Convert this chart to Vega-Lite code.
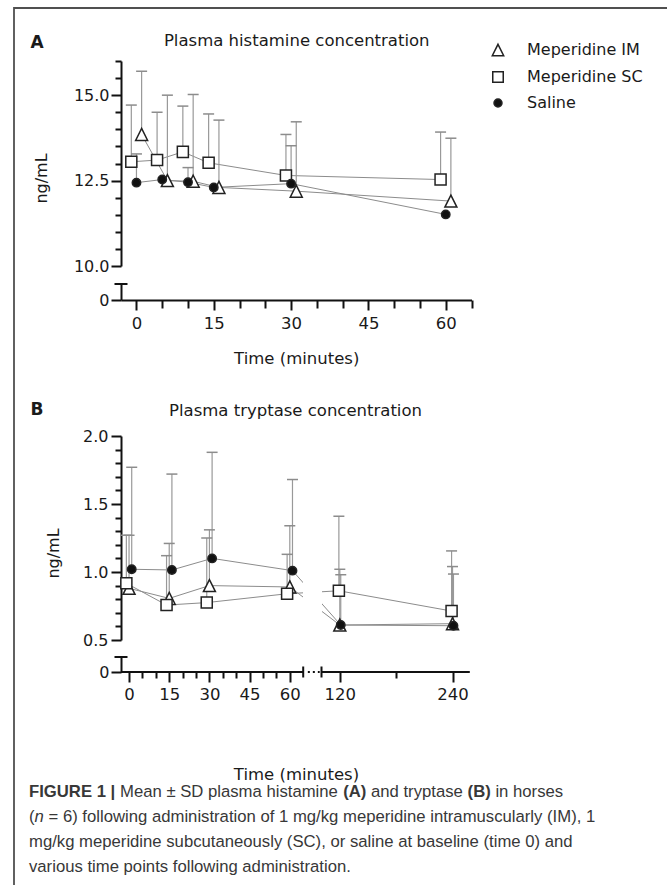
{
  "$schema": "https://vega.github.io/schema/vega-lite/v6.json",
  "description": "Figure 1: mean and SD of plasma histamine (A) and tryptase (B) in horses after meperidine IM, meperidine SC or saline.",
  "width": 663,
  "height": 887,
  "autosize": {"type": "none"},
  "padding": {"left": 14, "top": 8, "right": -10, "bottom": -10},
  "background": "#ffffff",
  "config": {
    "view": {"stroke": "#505050", "strokeWidth": 1.8},
    "axis": {
      "grid": false,
      "labelFont": "DejaVu Sans",
      "labelFontSize": 16,
      "labelColor": "#1a1a1a",
      "labelFlush": false,
      "labelOverlap": false,
      "titleFont": "DejaVu Sans",
      "titleFontSize": 16.5,
      "titleFontWeight": "normal",
      "titleColor": "#1a1a1a",
      "domainColor": "#111111",
      "domainWidth": 2,
      "tickColor": "#111111",
      "tickWidth": 2
    },
    "text": {"font": "Liberation Sans", "fontSize": 16.7, "color": "#383838", "align": "left", "baseline": "alphabetic"}
  },
  "datasets": {
    "mean_sd": [
      {"panel": "A", "group": "Meperidine IM", "time": 1, "mean": 13.85, "upper": 15.7},
      {"panel": "A", "group": "Meperidine IM", "time": 6, "mean": 12.5, "upper": 15.0},
      {"panel": "A", "group": "Meperidine IM", "time": 11, "mean": 12.48, "upper": 15.02},
      {"panel": "A", "group": "Meperidine IM", "time": 16, "mean": 12.3, "upper": 14.27},
      {"panel": "A", "group": "Meperidine IM", "time": 31, "mean": 12.19, "upper": 14.22},
      {"panel": "A", "group": "Meperidine IM", "time": 61, "mean": 11.9, "upper": 13.74},
      {"panel": "A", "group": "Meperidine SC", "time": -1, "mean": 13.05, "upper": 14.71},
      {"panel": "A", "group": "Meperidine SC", "time": 4, "mean": 13.1, "upper": 14.5},
      {"panel": "A", "group": "Meperidine SC", "time": 9, "mean": 13.34, "upper": 14.68},
      {"panel": "A", "group": "Meperidine SC", "time": 14, "mean": 13.02, "upper": 14.45},
      {"panel": "A", "group": "Meperidine SC", "time": 29, "mean": 12.65, "upper": 13.85},
      {"panel": "A", "group": "Meperidine SC", "time": 59, "mean": 12.53, "upper": 13.92},
      {"panel": "A", "group": "Saline", "time": 0, "mean": 12.44, "upper": 13.28},
      {"panel": "A", "group": "Saline", "time": 5, "mean": 12.53, "upper": null},
      {"panel": "A", "group": "Saline", "time": 10, "mean": 12.45, "upper": 12.88},
      {"panel": "A", "group": "Saline", "time": 15, "mean": 12.3, "upper": null},
      {"panel": "A", "group": "Saline", "time": 30, "mean": 12.41, "upper": 13.52},
      {"panel": "A", "group": "Saline", "time": 60, "mean": 11.51, "upper": null},
      {"panel": "B", "group": "Meperidine IM", "time": 0, "mean": 0.88, "upper": 1.27},
      {"panel": "B", "group": "Meperidine IM", "time": 15, "mean": 0.806, "upper": 1.21},
      {"panel": "B", "group": "Meperidine IM", "time": 30, "mean": 0.9, "upper": 1.31},
      {"panel": "B", "group": "Meperidine IM", "time": 60, "mean": 0.89, "upper": 1.34},
      {"panel": "B", "group": "Meperidine IM", "time": 120, "mean": 0.61, "upper": 1.02},
      {"panel": "B", "group": "Meperidine IM", "time": 240, "mean": 0.62, "upper": 1.04},
      {"panel": "B", "group": "Meperidine SC", "time": -1, "mean": 0.917, "upper": 1.27},
      {"panel": "B", "group": "Meperidine SC", "time": 14, "mean": 0.757, "upper": 1.12},
      {"panel": "B", "group": "Meperidine SC", "time": 29, "mean": 0.775, "upper": 1.25},
      {"panel": "B", "group": "Meperidine SC", "time": 59, "mean": 0.84, "upper": 1.13},
      {"panel": "B", "group": "Meperidine SC", "time": 119, "mean": 0.862, "upper": 1.41},
      {"panel": "B", "group": "Meperidine SC", "time": 239, "mean": 0.713, "upper": 1.155},
      {"panel": "B", "group": "Saline", "time": 1, "mean": 1.02, "upper": 1.77},
      {"panel": "B", "group": "Saline", "time": 16, "mean": 1.015, "upper": 1.72},
      {"panel": "B", "group": "Saline", "time": 31, "mean": 1.1, "upper": 1.88},
      {"panel": "B", "group": "Saline", "time": 61, "mean": 1.01, "upper": 1.68},
      {"panel": "B", "group": "Saline", "time": 121, "mean": 0.61, "upper": 0.98},
      {"panel": "B", "group": "Saline", "time": 241, "mean": 0.605, "upper": 0.985}
    ],
    "caption": [
      {"line": 1, "part": "lead", "text": "FIGURE 1 |"},
      {"line": 1, "part": "histamine", "text": "Mean ± SD plasma histamine"},
      {"line": 1, "part": "labelA", "text": "(A)"},
      {"line": 1, "part": "tryptase", "text": "and tryptase"},
      {"line": 1, "part": "labelB", "text": "(B)"},
      {"line": 1, "part": "horses", "text": "in horses"},
      {"line": 2, "part": "paren", "text": "("},
      {"line": 2, "part": "n", "text": "n"},
      {"line": 2, "part": "sample", "text": "= 6) following administration of 1 mg/kg meperidine intramuscularly (IM), 1"},
      {"line": 3, "part": "plain", "text": "mg/kg meperidine subcutaneously (SC), or saline at baseline (time 0) and"},
      {"line": 4, "part": "plain", "text": "various time points following administration."}
    ]
  },
  "layer": [
    {
      "data": {"name": "mean_sd"},
      "transform": [{"filter": "datum.panel === 'A'"}],
      "encoding": {
        "x": {
          "field": "time",
          "type": "quantitative",
          "scale": {"domain": [-3, 65], "range": [107, 457.5], "nice": false, "zero": false},
          "axis": {"orient": "top", "offset": 0, "domain": false, "ticks": false, "labels": false, "title": "Plasma histamine concentration", "titleY": 37, "titleBaseline": "alphabetic"}
        },
        "y": {
          "field": "mean",
          "type": "quantitative",
          "scale": {"domain": [10, 16], "range": [258, 53], "nice": false, "zero": false},
          "axis": {
            "orient": "left",
            "offset": -107,
            "values": [10, 10.5, 11, 11.5, 12, 12.5, 13, 13.5, 14, 14.5, 15, 15.5, 16],
            "tickSize": {"condition": {"test": "(datum.value % 2.5 === 0)", "value": 10}, "value": 6},
            "labelExpr": "datum.value % 2.5 === 0 ? format(datum.value, '.1f') : ''",
            "labelPadding": 2,
            "title": "ng/mL",
            "titleX": -74.5,
            "titleY": 170,
            "titleAngle": 270,
            "titleAlign": "center",
            "titleBaseline": "alphabetic",
            "titleFontSize": 16
          }
        }
      },
      "layer": [
        {
          "mark": {"type": "line", "stroke": "#8c8c8c", "strokeWidth": 1},
          "encoding": {"detail": {"field": "group", "type": "nominal"}, "order": {"field": "time", "type": "quantitative"}}
        },
        {
          "transform": [{"filter": "isValid(datum.upper)"}],
          "mark": {"type": "rule", "stroke": "#999999", "strokeWidth": 1.2},
          "encoding": {"y2": {"field": "upper"}}
        },
        {
          "transform": [{"filter": "isValid(datum.upper)"}],
          "mark": {"type": "tick", "orient": "horizontal", "size": 11, "thickness": 1.5, "color": "#8c8c8c", "opacity": 1},
          "encoding": {"y": {"field": "upper", "type": "quantitative"}}
        },
        {
          "mark": {"type": "point", "filled": true, "size": 144, "opacity": 1, "strokeWidth": 1.5},
          "encoding": {
            "shape": {
              "field": "group",
              "type": "nominal",
              "scale": {
                "domain": ["Meperidine IM", "Meperidine SC", "Saline"],
                "range": ["M0,-1L1,1H-1Z", "M-0.92,-0.92H0.92V0.92H-0.92Z", "M0.7,0A0.7,0.7 0 1 1 -0.7,0A0.7,0.7 0 1 1 0.7,0Z"]
              },
              "legend": {
                "orient": "none",
                "legendX": 476,
                "legendY": 34,
                "title": null,
                "padding": 0,
                "labelFont": "DejaVu Sans",
                "labelFontSize": 16,
                "labelColor": "#1a1a1a",
                "labelOffset": 21,
                "rowPadding": 9,
                "symbolSize": 130,
                "symbolStrokeWidth": 1.5
              }
            },
            "fill": {
              "field": "group",
              "type": "nominal",
              "scale": {"domain": ["Meperidine IM", "Meperidine SC", "Saline"], "range": ["#ffffff", "#ffffff", "#111111"]},
              "legend": {
                "orient": "none",
                "legendX": 476,
                "legendY": 34,
                "title": null,
                "padding": 0,
                "labelFont": "DejaVu Sans",
                "labelFontSize": 16,
                "labelColor": "#1a1a1a",
                "labelOffset": 21,
                "rowPadding": 9,
                "symbolSize": 130
              }
            },
            "stroke": {
              "field": "group",
              "type": "nominal",
              "scale": {"domain": ["Meperidine IM", "Meperidine SC", "Saline"], "range": ["#222222", "#222222", "#222222"]},
              "legend": {
                "orient": "none",
                "legendX": 476,
                "legendY": 34,
                "title": null,
                "padding": 0,
                "labelFont": "DejaVu Sans",
                "labelFontSize": 16,
                "labelColor": "#1a1a1a",
                "labelOffset": 21,
                "rowPadding": 9,
                "symbolSize": 130
              }
            }
          }
        }
      ]
    },
    {
      "data": {"values": [{}]},
      "mark": {"type": "tick", "orient": "horizontal", "size": 13, "thickness": 2, "color": "#111111", "opacity": 1},
      "encoding": {
        "x": {
          "datum": -3,
          "type": "quantitative",
          "scale": {"domain": [-3, 65], "range": [107, 457.5], "nice": false, "zero": false},
          "axis": {
            "orient": "bottom",
            "offset": -595,
            "values": [0, 5, 10, 15, 20, 25, 30, 35, 40, 45, 50, 55, 60, 65],
            "tickSize": {"condition": {"test": "(datum.value % 15 === 0)", "value": 10}, "value": 8},
            "labelExpr": "datum.value % 15 === 0 ? datum.label : ''",
            "labelBaseline": "alphabetic",
            "labelPadding": 18,
            "labelFontSize": 16.5,
            "title": "Time (minutes)",
            "titleY": 63,
            "titleBaseline": "alphabetic"
          }
        },
        "y": {
          "datum": 1,
          "type": "quantitative",
          "scale": {"domain": [0, 1], "range": [292, 276], "nice": false, "zero": false},
          "axis": {
            "orient": "left",
            "offset": -107,
            "values": [0],
            "format": "d",
            "tickSize": 10,
            "labelPadding": 2,
            "title": "A",
            "titleX": -84.5,
            "titleY": 39,
            "titleAngle": 0,
            "titleAlign": "center",
            "titleBaseline": "alphabetic",
            "titleFontWeight": "bold",
            "titleFontSize": 17
          }
        }
      }
    },
    {
      "data": {"name": "mean_sd"},
      "transform": [{"filter": "datum.panel === 'B'"}],
      "encoding": {
        "x": {
          "field": "time",
          "type": "quantitative",
          "scale": {"domain": [-3, 65, 100.5, 258.4], "range": [107, 289.2, 307.5, 455.8], "nice": false, "zero": false},
          "axis": {"orient": "top", "offset": 0, "domain": false, "ticks": false, "labels": false, "title": "Plasma tryptase concentration", "titleX": 281, "titleY": 407, "titleBaseline": "alphabetic"}
        },
        "y": {
          "field": "mean",
          "type": "quantitative",
          "scale": {"domain": [0.5, 2], "range": [632, 428], "nice": false, "zero": false},
          "axis": {
            "orient": "left",
            "offset": -107,
            "values": [0.5, 0.6, 0.7, 0.8, 0.9, 1.0, 1.1, 1.2, 1.3, 1.4, 1.5, 1.6, 1.7, 1.8, 1.9, 2.0],
            "tickSize": {"condition": {"test": "(abs(datum.value * 2 - round(datum.value * 2)) < 0.001)", "value": 10}, "value": 6},
            "labelExpr": "abs(datum.value * 2 - round(datum.value * 2)) < 0.001 ? format(datum.value, '.1f') : ''",
            "labelPadding": 3,
            "title": "ng/mL",
            "titleX": -62.5,
            "titleY": 545,
            "titleAngle": 270,
            "titleAlign": "center",
            "titleBaseline": "alphabetic",
            "titleFontSize": 16
          }
        }
      },
      "layer": [
        {
          "mark": {"type": "line", "stroke": "#8c8c8c", "strokeWidth": 1},
          "encoding": {"detail": {"field": "group", "type": "nominal"}, "order": {"field": "time", "type": "quantitative"}}
        },
        {
          "mark": {"type": "rect", "fill": "#ffffff"},
          "encoding": {
            "x": {"datum": 65, "type": "quantitative"},
            "x2": {"datum": 100.5},
            "y": {"datum": 0.5, "type": "quantitative"},
            "y2": {"datum": 2}
          }
        },
        {
          "transform": [{"filter": "isValid(datum.upper)"}],
          "mark": {"type": "rule", "stroke": "#999999", "strokeWidth": 1.2},
          "encoding": {"y2": {"field": "upper"}}
        },
        {
          "transform": [{"filter": "isValid(datum.upper)"}],
          "mark": {"type": "tick", "orient": "horizontal", "size": 11, "thickness": 1.5, "color": "#8c8c8c", "opacity": 1},
          "encoding": {"y": {"field": "upper", "type": "quantitative"}}
        },
        {
          "mark": {"type": "point", "filled": true, "size": 144, "opacity": 1, "strokeWidth": 1.5},
          "encoding": {
            "shape": {"field": "group", "type": "nominal", "legend": null},
            "fill": {"field": "group", "type": "nominal", "legend": null},
            "stroke": {"field": "group", "type": "nominal", "legend": null}
          }
        }
      ]
    },
    {
      "data": {"values": [{}]},
      "encoding": {
        "x": {
          "datum": -3,
          "type": "quantitative",
          "scale": {"domain": [-3, 65, 100.5, 258.4], "range": [107, 289.2, 307.5, 455.8], "nice": false, "zero": false},
          "axis": {
            "orient": "bottom",
            "offset": -223,
            "domain": false,
            "values": [0, 5, 10, 15, 20, 25, 30, 35, 40, 45, 50, 55, 60, 120, 180, 240],
            "tickSize": {"condition": {"test": "(datum.value <= 60 ? datum.value % 15 === 0 : datum.value !== 180)", "value": 10}, "value": 6},
            "labelExpr": "(datum.value <= 60 ? datum.value % 15 === 0 : datum.value !== 180) ? datum.label : ''",
            "labelBaseline": "alphabetic",
            "labelPadding": 17,
            "labelFontSize": 16.5,
            "title": "Time (minutes)",
            "titleX": 282,
            "titleY": 107,
            "titleBaseline": "alphabetic"
          }
        },
        "y": {
          "datum": 0,
          "type": "quantitative",
          "scale": {"domain": [0, 1], "range": [664, 649], "nice": false, "zero": false},
          "axis": {
            "orient": "left",
            "offset": -107,
            "values": [0],
            "format": "d",
            "tickSize": 10,
            "labelPadding": 2,
            "title": "B",
            "titleX": -84.5,
            "titleY": 406,
            "titleAngle": 0,
            "titleAlign": "center",
            "titleBaseline": "alphabetic",
            "titleFontWeight": "bold",
            "titleFontSize": 17
          }
        }
      },
      "layer": [
        {
          "mark": {"type": "tick", "orient": "horizontal", "size": 13, "thickness": 2, "color": "#111111", "opacity": 1},
          "encoding": {"y": {"datum": 1, "type": "quantitative"}}
        },
        {
          "mark": {"type": "rule", "color": "#111111", "strokeWidth": 2},
          "encoding": {"x2": {"datum": 65}}
        },
        {
          "mark": {"type": "rule", "color": "#111111", "strokeWidth": 2},
          "encoding": {"x": {"datum": 100.5, "type": "quantitative"}, "x2": {"datum": 258.4}}
        },
        {
          "mark": {"type": "rule", "color": "#111111", "strokeWidth": 2, "strokeDash": [2, 3]},
          "encoding": {"x": {"datum": 74, "type": "quantitative"}, "x2": {"datum": 97}}
        },
        {
          "mark": {"type": "tick", "orient": "vertical", "size": 11, "thickness": 2, "color": "#111111", "opacity": 1},
          "encoding": {"x": {"datum": 65, "type": "quantitative"}}
        },
        {
          "mark": {"type": "tick", "orient": "vertical", "size": 11, "thickness": 2, "color": "#111111", "opacity": 1},
          "encoding": {"x": {"datum": 100.5, "type": "quantitative"}}
        }
      ]
    },
    {
      "data": {"name": "caption"},
      "encoding": {
        "x": {"datum": 0, "type": "quantitative", "scale": {"domain": [0, 1], "range": [15, 650]}, "axis": null},
        "y": {"field": "line", "type": "quantitative", "scale": {"domain": [1, 4], "range": [789, 864], "nice": false, "zero": false}, "axis": null},
        "text": {"field": "text"}
      },
      "layer": [
        {"transform": [{"filter": "datum.part === 'lead'"}], "mark": {"type": "text", "fontWeight": "bold"}},
        {"transform": [{"filter": "datum.part === 'histamine'"}], "mark": {"type": "text", "dx": 91}},
        {"transform": [{"filter": "datum.part === 'labelA'"}], "mark": {"type": "text", "fontWeight": "bold", "dx": 314.2}},
        {"transform": [{"filter": "datum.part === 'tryptase'"}], "mark": {"type": "text", "dx": 342}},
        {"transform": [{"filter": "datum.part === 'labelB'"}], "mark": {"type": "text", "fontWeight": "bold", "dx": 438.6}},
        {"transform": [{"filter": "datum.part === 'horses'"}], "mark": {"type": "text", "dx": 466.4}},
        {"transform": [{"filter": "datum.part === 'paren'"}], "mark": {"type": "text"}},
        {"transform": [{"filter": "datum.part === 'n'"}], "mark": {"type": "text", "fontStyle": "italic", "dx": 5.6}},
        {"transform": [{"filter": "datum.part === 'sample'"}], "mark": {"type": "text", "dx": 19.5}},
        {"transform": [{"filter": "datum.part === 'plain'"}], "mark": {"type": "text"}}
      ]
    }
  ],
  "resolve": {
    "scale": {"x": "independent", "y": "independent"},
    "axis": {"x": "independent", "y": "independent"}
  }
}
